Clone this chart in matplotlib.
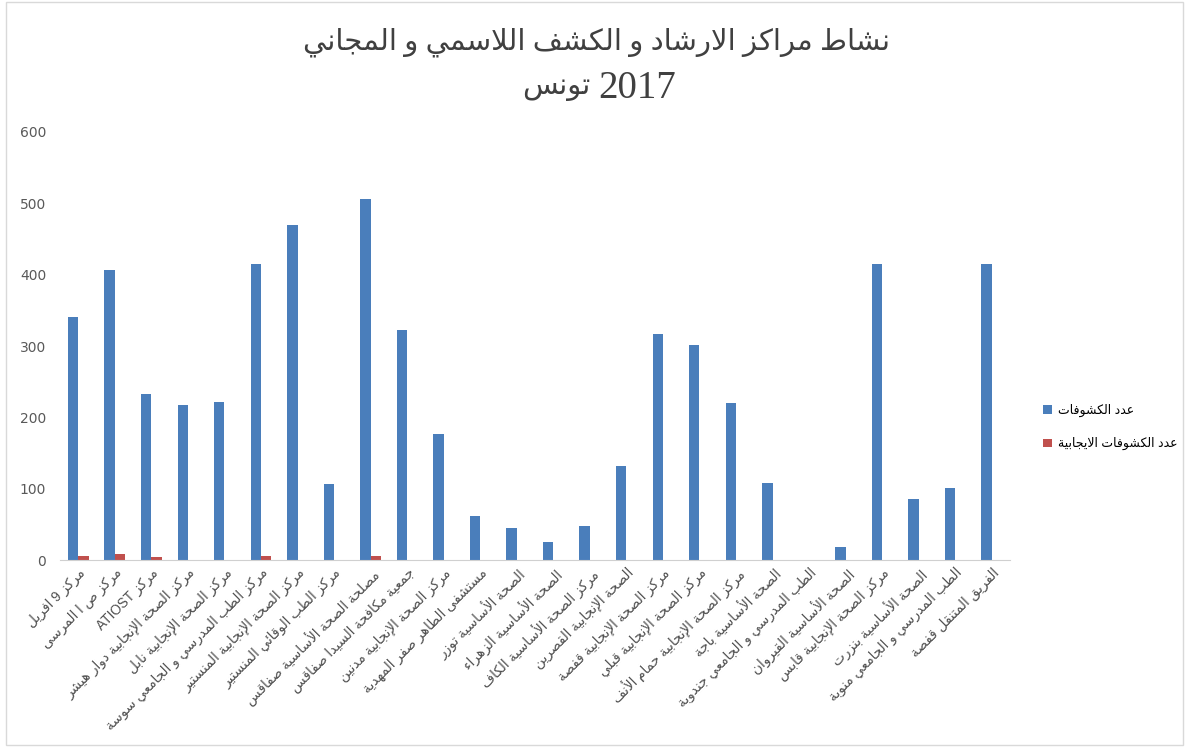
import re
import numpy as np
import matplotlib
matplotlib.use("Agg")
import matplotlib.pyplot as plt
from matplotlib.patches import Rectangle

# data
categories = [
    "مركز 9 افريل",
    "مركز ص ا المرسى",
    "مركز ATIOST",
    "مركز الصحة الإنجابية دوار هيشر",
    "مركز الصحة الإنجابية نابل",
    "مركز الطب المدرسي و الجامعي سوسة",
    "مركز الصحة الإنجابية المنستير",
    "مركز الطب الوقائي المنستير",
    "مصلحة الصحة الأساسية صفاقس",
    "جمعية مكافحة السيدا صفاقس",
    "مركز الصحة الإنجابية مدنين",
    "مستشفى الطاهر صفر المهدية",
    "الصحة الأساسية توزر",
    "الصحة الأساسية الزهراء",
    "مركز الصحة الأساسية الكاف",
    "الصحة الإنجابية القصرين",
    "مركز الصحة الإنجابية قفصة",
    "مركز الصحة الإنجابية قبلي",
    "مركز الصحة الإنجابية حمام الأنف",
    "الصحة الأساسية باجة",
    "الطب المدرسي و الجامعي جندوبة",
    "الصحة الأساسية القيروان",
    "مركز الصحة الإنجابية قابس",
    "الصحة الأساسية بنزرت",
    "الطب المدرسي و الجامعي منوبة",
    "الفريق المتنقل قفصة",
]
tests = [340, 406, 233, 218, 221, 415, 469, 107, 506, 322, 177, 62, 45, 25, 48,
         132, 317, 302, 220, 108, 0, 18, 415, 86, 101, 415]
positives = [5, 8, 4, 0, 0, 5, 0, 0, 5, 0, 0, 0, 0, 0, 0,
             0, 0, 0, 0, 0, 0, 0, 0, 0, 0, 0]
series_names = ["عدد الكشوفات", "عدد الكشوفات الايجابية"]
title_line1 = "نشاط مراكز الارشاد و الكشف اللاسمي و المجاني"
title_city = "تونس"
title_year = "2017"

# --- minimal arabic shaping (no reshaper lib available) ---
DUAL = {'ئ': 0xFE89, 'ب': 0xFE8F, 'ت': 0xFE95, 'ث': 0xFE99, 'ج': 0xFE9D, 'ح': 0xFEA1,
        'خ': 0xFEA5, 'س': 0xFEB1, 'ش': 0xFEB5, 'ص': 0xFEB9, 'ض': 0xFEBD, 'ط': 0xFEC1,
        'ظ': 0xFEC5, 'ع': 0xFEC9, 'غ': 0xFECD, 'ف': 0xFED1, 'ق': 0xFED5, 'ك': 0xFED9,
        'ل': 0xFEDD, 'م': 0xFEE1, 'ن': 0xFEE5, 'ه': 0xFEE9, 'ي': 0xFEF1}
RIGHT = {'آ': 0xFE81, 'أ': 0xFE83, 'ؤ': 0xFE85, 'إ': 0xFE87, 'ا': 0xFE8D, 'ة': 0xFE93,
         'د': 0xFEA9, 'ذ': 0xFEAB, 'ر': 0xFEAD, 'ز': 0xFEAF, 'و': 0xFEED, 'ى': 0xFEEF}
LAMALEF = {'آ': 0xFEF5, 'أ': 0xFEF7, 'إ': 0xFEF9, 'ا': 0xFEFB}


def shape(text):
    out = []
    prev = False
    i = 0
    while i < len(text):
        c = text[i]
        nxt = text[i + 1] if i + 1 < len(text) else ''
        if c == 'ل' and nxt in LAMALEF:
            out.append(chr(LAMALEF[nxt] + (1 if prev else 0)))
            prev = False
            i += 2
            continue
        if c in DUAL:
            nj = nxt in DUAL or nxt in RIGHT
            form = DUAL[c] + (3 if prev and nj else 2 if nj else 1 if prev else 0)
            out.append(chr(form))
            prev = True
        elif c in RIGHT:
            out.append(chr(RIGHT[c] + (1 if prev else 0)))
            prev = False
        else:
            out.append(c)
            prev = False
        i += 1
    return ''.join(out)


def rtl(text):
    runs = re.findall(r'[A-Za-z0-9]+|[^A-Za-z0-9]', shape(text))
    return ''.join(reversed(runs))


blue = "#4a7ebb"
red = "#c0504d"
sans = ['Liberation Sans', 'DejaVu Sans']
serif = ['Liberation Serif', 'DejaVu Sans']

fig = plt.figure(figsize=(11.89, 7.47), dpi=100)
ax = fig.add_axes([0.0505, 0.2503, 0.799, 0.573])

x = np.arange(len(categories))
w = 0.285
ax.bar(x - w / 2, tests, w, color=blue, label=rtl(series_names[0]))
ax.bar(x + w / 2, positives, w, color=red, label=rtl(series_names[1]))

ax.set_xlim(-0.5, len(categories) - 0.5)
ax.set_ylim(0, 600)
ax.set_yticks(range(0, 601, 100))
ax.tick_params(axis='y', length=0, labelsize=10, labelcolor='#595959', pad=10)
ax.tick_params(axis='x', length=0, pad=4)
ax.set_xticks(x)
ax.set_xticklabels([rtl(c) for c in categories], rotation=45, ha='right',
                   rotation_mode='anchor', fontsize=9.8, color='#505050', family=sans)
for s in ['top', 'right', 'left']:
    ax.spines[s].set_visible(False)
ax.spines['bottom'].set_color('#d0d0d0')

# title: line 1 rtl, line 2 "city year" with the city on the left as in the reference
fig.text(0.502, 0.944, rtl(title_line1), ha='center', va='center', fontsize=21,
         color='#404040', family=serif)
fig.text(0.4965, 0.882, rtl(title_city), ha='right', va='center',
         fontsize=21, color='#404040', family=serif)
fig.text(0.5035, 0.882, title_year, ha='left', va='center',
         fontsize=28, color='#404040', family=serif)

fig.legend(loc='center left', bbox_to_anchor=(0.868, 0.428), frameon=False,
           handlelength=0.7, handleheight=0.7, labelspacing=1.6, handletextpad=0.5,
           prop={'family': sans, 'size': 9})

fig.patches.append(Rectangle((0.005, 0.003), 0.99, 0.994, transform=fig.transFigure,
                             fill=False, edgecolor='#d9d9d9', lw=1))

fig.savefig("out.png", dpi=100, facecolor='white')
